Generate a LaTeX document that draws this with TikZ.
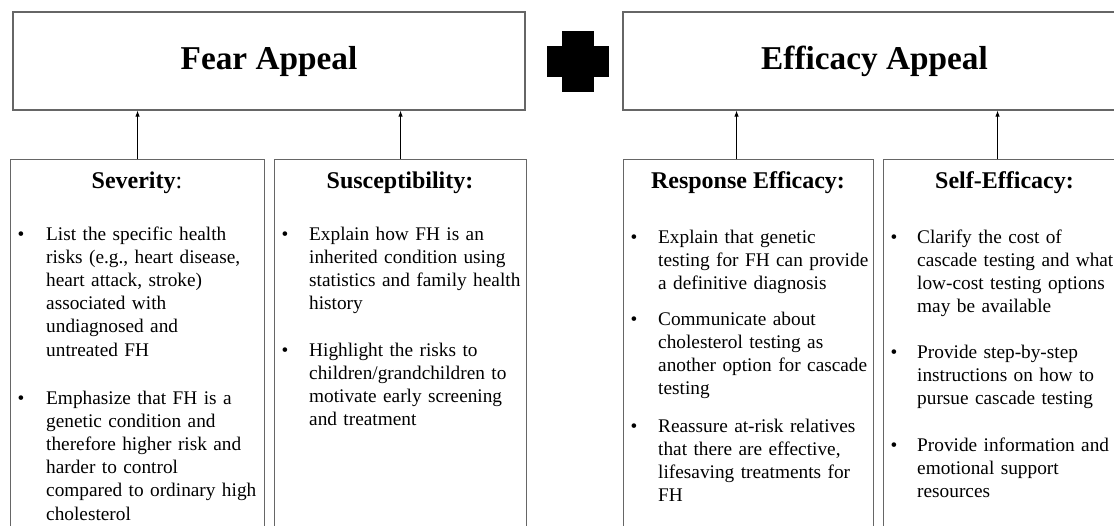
\documentclass[tikz,border=0pt]{standalone}
\usepackage{fontspec}
\setmainfont{Liberation Serif}
\usetikzlibrary{arrows.meta,positioning}

\begin{document}
\begin{tikzpicture}[x=1pt, y=-1pt,
    appeal/.style={draw=black!60, line width=1.1pt, minimum height=98pt,
      font=\fontsize{33.3}{40}\selectfont\bfseries},
    factor/.style={draw=black!60, line width=1.1pt, anchor=north west,
      minimum height=420pt},
    head/.style={anchor=base, inner sep=0pt, font=\fontsize{24}{28}\selectfont\bfseries},
    item/.style={anchor=base west, inner sep=0pt, text width=240pt, align=left,
      font=\fontsize{19.3}{23.2}\selectfont},
    dot/.style={anchor=base, inner sep=0pt, font=\fontsize{19.3}{23.2}\selectfont},
    up/.style={-{Latex[length=6pt,width=4.5pt]}, line width=1pt}]

  \useasboundingbox (0,0) rectangle (1114,525);
  \fill[white] (0,0) rectangle (1114,525);
  \clip (0,0) rectangle (1114,525);

  % the two appeals
  \node[appeal, minimum width=512pt] (fear) at (269,61) {Fear Appeal};
  \node[appeal, minimum width=503pt] (efficacy) at (874.5,61) {Efficacy Appeal};

  % plus sign
  \coordinate (plus) at (578,61.5);
  \fill ([shift={(-16,-30.5)}]plus) rectangle ([shift={(16,30.5)}]plus);
  \fill ([shift={(-31,-15.5)}]plus) rectangle ([shift={(31,15.5)}]plus);

  % factor boxes and headings
  \foreach \nm/\x/\w/\hd in {
      sev/10/254/{Severity\textmd{:}},
      susc/274/252/{Susceptibility:},
      resp/623/250/{Response Efficacy:},
      selfeff/883/243/{Self-Efficacy:}} {
    \node[factor, minimum width=\w pt] (\nm) at (\x,159) {};
    \node[head] (\nm-head) at (\x+\w/2,188) {\hd};
  }

  % arrows up to the appeals
  \coordinate (sevfoot) at (sev.north);
  \coordinate (suscfoot) at (susc.north);
  \coordinate (respfoot) at ([xshift=-12pt]resp.north);
  \coordinate (selffoot) at ([xshift=-7.5pt]selfeff.north);
  \draw[up] (sevfoot) -- (sevfoot |- fear.south);
  \draw[up] (suscfoot) -- (suscfoot |- fear.south);
  \draw[up] (respfoot) -- (respfoot |- efficacy.south);
  \draw[up] (selffoot) -- (selffoot |- efficacy.south);

  % bullet items
  \foreach \bx/\tx/\by/\txt in {
      21/46/240/{List the specific health\\risks (e.g., heart disease,\\heart attack, stroke)\\associated with\\undiagnosed and\\untreated FH},
      21/46/404/{Emphasize that FH is a\\genetic condition and\\therefore higher risk and\\harder to control\\compared to ordinary high\\cholesterol},
      285/309/240/{Explain how FH is an\\inherited condition using\\statistics and family health\\history},
      285/309/356/{Highlight the risks to\\children/grandchildren to\\motivate early screening\\and treatment},
      634/658/243/{Explain that genetic\\testing for FH can provide\\a definitive diagnosis},
      634/658/325/{Communicate about\\cholesterol testing as\\another option for cascade\\testing},
      634/658/432/{Reassure at-risk relatives\\that there are effective,\\lifesaving treatments for\\FH},
      894/917/243/{Clarify the cost of\\cascade testing and what\\low-cost testing options\\may be available},
      894/917/358/{Provide step-by-step\\instructions on how to\\pursue cascade testing},
      894/917/451/{Provide information and\\emotional support\\resources}} {
    \node[dot] at (\bx,\by) {\textbullet};
    \node[item] at (\tx,\by) {\txt};
  }
\end{tikzpicture}
\end{document}
